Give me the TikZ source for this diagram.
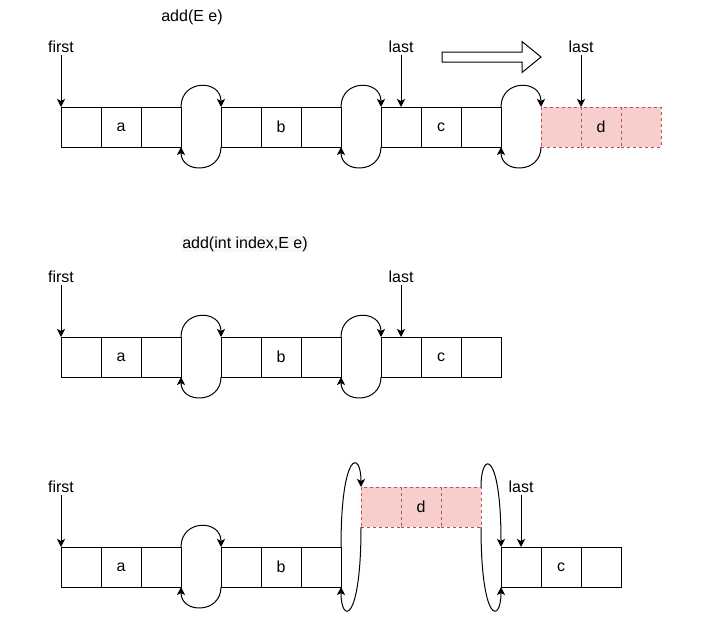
\documentclass[tikz,border=0pt]{standalone}
\usepackage{fontspec}
\setmainfont{Liberation Sans}
\usepackage{tikz}
\usetikzlibrary{positioning,arrows.meta}
\definecolor{newfill}{HTML}{F8CECC}
\definecolor{newline}{HTML}{B85450}
\definecolor{titlebg}{HTML}{F5F7F9}
\tikzset{
  cell/.style={rectangle,draw,minimum width=40pt,minimum height=40pt,inner sep=0pt,outer sep=0pt},
  newcell/.style={cell,draw=newline,fill=newfill,dash pattern=on 3pt off 3pt},
  lbl/.style={inner sep=2pt,font=\fontsize{16}{18}\selectfont},
  ptr/.style={-{Stealth[length=8pt,width=8pt,inset=2pt]},line width=1pt},
  link/.style={ptr}
}

\begin{document}
\begin{tikzpicture}[x=1pt,y=1pt,line width=1pt,font=\fontsize{16}{18}\selectfont]
\useasboundingbox (0,0) rectangle (706,-624);
% add(E e)
\node[lbl] (t1) at (192,-17) {add(E e)};
\node[cell] (a1) at (81,-127) {}; \node[cell,right=0pt of a1] (a2) {a}; \node[cell,right=0pt of a2] (a3) {};
\node[cell,right=40pt of a3] (b1) {}; \node[cell,right=0pt of b1] (b2) {b}; \node[cell,right=0pt of b2] (b3) {};
\node[cell,right=40pt of b3] (c1) {}; \node[cell,right=0pt of c1] (c2) {c}; \node[cell,right=0pt of c2] (c3) {};
\node[newcell,right=40pt of c3] (d1) {}; \node[newcell,right=0pt of d1] (d2) {d}; \node[newcell,right=0pt of d2] (d3) {};
\node[lbl] (first1) at (61,-47) {first}; \node[lbl] (last1) at (401,-47) {last}; \node[lbl] (lastnew) at (581,-47) {last};
\draw[ptr] (first1) -- (a1.north west); \draw[ptr] (last1) -- (c1.north); \draw[ptr] (lastnew) -- (d1.north east);
\draw[link] (a3.north east) .. controls +(0,28) and +(0,28) .. (b1.north west);
\draw[link] (b1.south west) .. controls +(0,-27) and +(0,-27) .. (a3.south east);
\draw[link] (b3.north east) .. controls +(0,28) and +(0,28) .. (c1.north west);
\draw[link] (c1.south west) .. controls +(0,-27) and +(0,-27) .. (b3.south east);
\draw[link] (c3.north east) .. controls +(0,28) and +(0,28) .. (d1.north west);
\draw[link] (d1.south west) .. controls +(0,-27) and +(0,-27) .. (c3.south east);
\draw (442,-52) -- (522,-52) -- (522,-41.5) -- (541,-57) -- (522,-72.5) -- (522,-62) -- (442,-62) -- cycle;
% add(int index,E e)
\node[lbl,fill=titlebg,inner sep=1pt] (t2) at (245,-244) {add(int index,E e)};
\node[cell] (e1) at (81,-357) {}; \node[cell,right=0pt of e1] (e2) {a}; \node[cell,right=0pt of e2] (e3) {};
\node[cell,right=40pt of e3] (f1) {}; \node[cell,right=0pt of f1] (f2) {b}; \node[cell,right=0pt of f2] (f3) {};
\node[cell,right=40pt of f3] (g1) {}; \node[cell,right=0pt of g1] (g2) {c}; \node[cell,right=0pt of g2] (g3) {};
\node[lbl] (first2) at (61,-277) {first}; \node[lbl] (last2) at (401,-277) {last};
\draw[ptr] (first2) -- (e1.north west); \draw[ptr] (last2) -- (g1.north);
\draw[link] (e3.north east) .. controls +(0,28) and +(0,28) .. (f1.north west);
\draw[link] (f1.south west) .. controls +(0,-27) and +(0,-27) .. (e3.south east);
\draw[link] (f3.north east) .. controls +(0,28) and +(0,28) .. (g1.north west);
\draw[link] (g1.south west) .. controls +(0,-27) and +(0,-27) .. (f3.south east);
% after insert
\node[cell] (h1) at (81,-567) {}; \node[cell,right=0pt of h1] (h2) {a}; \node[cell,right=0pt of h2] (h3) {};
\node[cell,right=40pt of h3] (k1) {}; \node[cell,right=0pt of k1] (k2) {b}; \node[cell,right=0pt of k2] (k3) {};
\node[newcell] (m1) at (381,-507) {}; \node[newcell,right=0pt of m1] (m2) {d}; \node[newcell,right=0pt of m2] (m3) {};
\node[cell] (n1) at (521,-567) {}; \node[cell,right=0pt of n1] (n2) {c}; \node[cell,right=0pt of n2] (n3) {};
\node[lbl] (first3) at (61,-487) {first}; \node[lbl] (last3) at (521,-487) {last};
\draw[ptr] (first3) -- (h1.north west); \draw[ptr] (last3) -- (n1.north);
\draw[link] (h3.north east) .. controls +(0,28) and +(0,28) .. (k1.north west);
\draw[link] (k1.south west) .. controls +(0,-27) and +(0,-27) .. (h3.south east);
\draw[link] (k3.north east) .. controls +(0,97) and +(0,37) .. (m1.north west);
\draw[link] (m1.south west) .. controls +(0,-97) and +(0,-37) .. (k3.south east);
\draw[link] (m3.north east) .. controls +(0,37) and +(0,97) .. (n1.north west);
\draw[link] (m3.south east) .. controls +(0,-97) and +(0,-37) .. (n1.south west);
\end{tikzpicture}
\end{document}
